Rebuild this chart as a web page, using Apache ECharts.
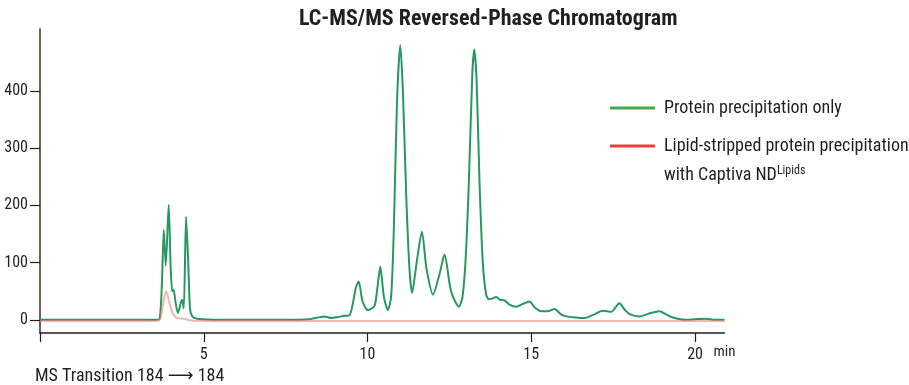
<!DOCTYPE html>
<html>
<head>
<meta charset="utf-8">
<script src="https://cdn.jsdelivr.net/npm/echarts@6/dist/echarts.min.js"></script>
<style>
html,body{margin:0;padding:0;background:#fff;}
#chart{width:909px;height:385px;}
</style>
</head>
<body>
<div id="chart"></div>
<script>
// ---- Data ----
const titleText = 'LC-MS/MS Reversed-Phase Chromatogram';
const footnoteText = 'MS Transition 184 \u27F6 184';
const seriesNames = ['Protein precipitation only', 'Lipid-stripped protein precipitation\nwith Captiva ND'];
const supText = 'Lipids';
const xTickValues = [0, 5, 10, 15, 20];
const xLabelValues = [5, 10, 15, 20];
const yTickValues = [0, 100, 200, 300, 400];
const xUnit = 'min';

// Protein precipitation only (green)
const greenTime = [0, 1, 2, 3, 3.5, 3.65, 3.72, 3.78, 3.84, 3.93, 3.99, 4.04, 4.08, 4.14, 4.21, 4.3, 4.34, 4.39, 4.46, 4.52, 4.58, 4.65, 4.8, 5.5, 6.5, 7.5, 8.2, 8.69, 8.9, 9.1, 9.3, 9.45, 9.54, 9.64, 9.73, 9.85, 10.01, 10.21, 10.3, 10.39, 10.5, 10.62, 10.72, 10.8, 10.9, 11.0, 11.08, 11.18, 11.28, 11.36, 11.5, 11.66, 11.8, 12.0, 12.2, 12.35, 12.55, 12.79, 12.9, 13.0, 13.1, 13.2, 13.26, 13.33, 13.42, 13.52, 13.62, 13.7, 13.8, 13.93, 14.05, 14.18, 14.35, 14.54, 14.75, 14.95, 15.1, 15.3, 15.5, 15.71, 15.9, 16.07, 16.35, 16.63, 16.9, 17.18, 17.44, 17.69, 17.85, 18.0, 18.31, 18.6, 18.92, 19.1, 19.32, 19.73, 20.0, 20.34, 20.6, 20.9];
const greenValue = [0, 0, 0, 0, 0, 2, 60, 157, 95, 201, 90, 50, 52, 30, 12, 30, 35, 20, 180, 110, 20, 6, 2, 0, 0, 0, 1, 6, 3, 5, 7, 8, 25, 55, 67, 32, 17, 24, 55, 93, 40, 17, 40, 150, 380, 480, 400, 220, 90, 47, 100, 154, 90, 44, 80, 114, 50, 23, 40, 110, 250, 430, 472, 420, 240, 100, 45, 36, 37, 40, 35, 34, 26, 23, 28, 32, 22, 15, 15, 19, 10, 6, 4, 3, 9, 16, 14, 29, 18, 10, 6, 11, 15, 10, 4, 0, 1, 2, 0, 0];

// Lipid-stripped protein precipitation with Captiva ND Lipids (red)
const redTime = [0, 2, 3.5, 3.65, 3.75, 3.85, 3.95, 4.05, 4.2, 4.4, 4.6, 6, 10, 15, 20, 20.9];
const redValue = [-2, -2, -2, 0, 25, 50, 30, 12, 3, 2, -1, -2, -2, -2, -2, -2];

// ---- Chart ----
const FONT = "'Roboto Condensed', 'Roboto', 'DejaVu Sans', sans-serif";
const INK = '#231f20';
const zip = (xs, ys) => xs.map((x, i) => [x, ys[i]]);

const chart = echarts.init(document.getElementById('chart'), null, {renderer: 'canvas'});
chart.setOption({
  animation: false,
  backgroundColor: '#ffffff',
  textStyle: {fontFamily: FONT},
  title: [
    {text: titleText, left: 299, top: 8, padding: 0,
     textStyle: {fontFamily: FONT, fontWeight: 'bold', fontSize: 22, color: INK}},
    {text: footnoteText, left: 35, top: 367, padding: 0,
     textStyle: {fontFamily: FONT, fontWeight: 'normal', fontSize: 18, color: INK}}
  ],
  legend: [
    {data: [{name: seriesNames[0]}], orient: 'vertical', left: 610, top: 93.5, padding: 0,
     itemWidth: 45, itemHeight: 3, icon: 'rect',
     textStyle: {fontFamily: FONT, fontSize: 18, color: INK, lineHeight: 29, padding: [0, 0, 0, 4]}},
    {data: [{name: seriesNames[1]}], orient: 'vertical', left: 610, top: 102.5, padding: 0,
     itemWidth: 45, itemHeight: 3, icon: 'rect',
     formatter: function (n) { return n + '{sup|' + supText + '}'; },
     textStyle: {fontFamily: FONT, fontSize: 18, color: INK, lineHeight: 29, padding: [29, 0, 0, 4],
       rich: {sup: {fontFamily: FONT, fontSize: 12, color: INK, lineHeight: 29, verticalAlign: 'middle', padding: [0, 0, 8, 0]}}}}
  ],
  grid: {left: 40, right: 184.5, top: 29, bottom: 52},
  xAxis: {
    type: 'value', min: 0, max: 20.9,
    name: xUnit, nameLocation: 'end', nameGap: -11,
    nameTextStyle: {fontFamily: FONT, fontSize: 15, color: INK, verticalAlign: 'top', lineHeight: 38},
    axisLine: {show: true, onZero: false, lineStyle: {color: INK, width: 1.5}},
    axisTick: {show: true, length: 9, customValues: xTickValues, lineStyle: {color: INK, width: 1.2}},
    axisLabel: {show: true, customValues: xLabelValues, margin: 14, fontFamily: FONT, fontSize: 16, color: INK},
    splitLine: {show: false}
  },
  yAxis: {
    type: 'value', min: -23, max: 508,
    axisLine: {show: true, onZero: false, lineStyle: {color: '#3a2a25', width: 1.5}},
    axisTick: {show: true, length: 10, customValues: yTickValues, lineStyle: {color: INK, width: 1.2}},
    axisLabel: {show: true, customValues: yTickValues, margin: 12, fontFamily: FONT, fontSize: 16, color: INK},
    splitLine: {show: false}
  },
  series: [
    {name: seriesNames[0], type: 'line', data: zip(greenTime, greenValue),
     showSymbol: false, smooth: 0.25, z: 2,
     itemStyle: {color: '#4aa84e'},
     lineStyle: {color: '#279862', width: 2}},
    {name: seriesNames[1], type: 'line', data: zip(redTime, redValue),
     showSymbol: false, smooth: 0.3, z: 3,
     itemStyle: {color: '#e8403a'},
     lineStyle: {color: 'rgba(240,120,105,0.55)', width: 2}}
  ]
});
</script>
</body>
</html>
